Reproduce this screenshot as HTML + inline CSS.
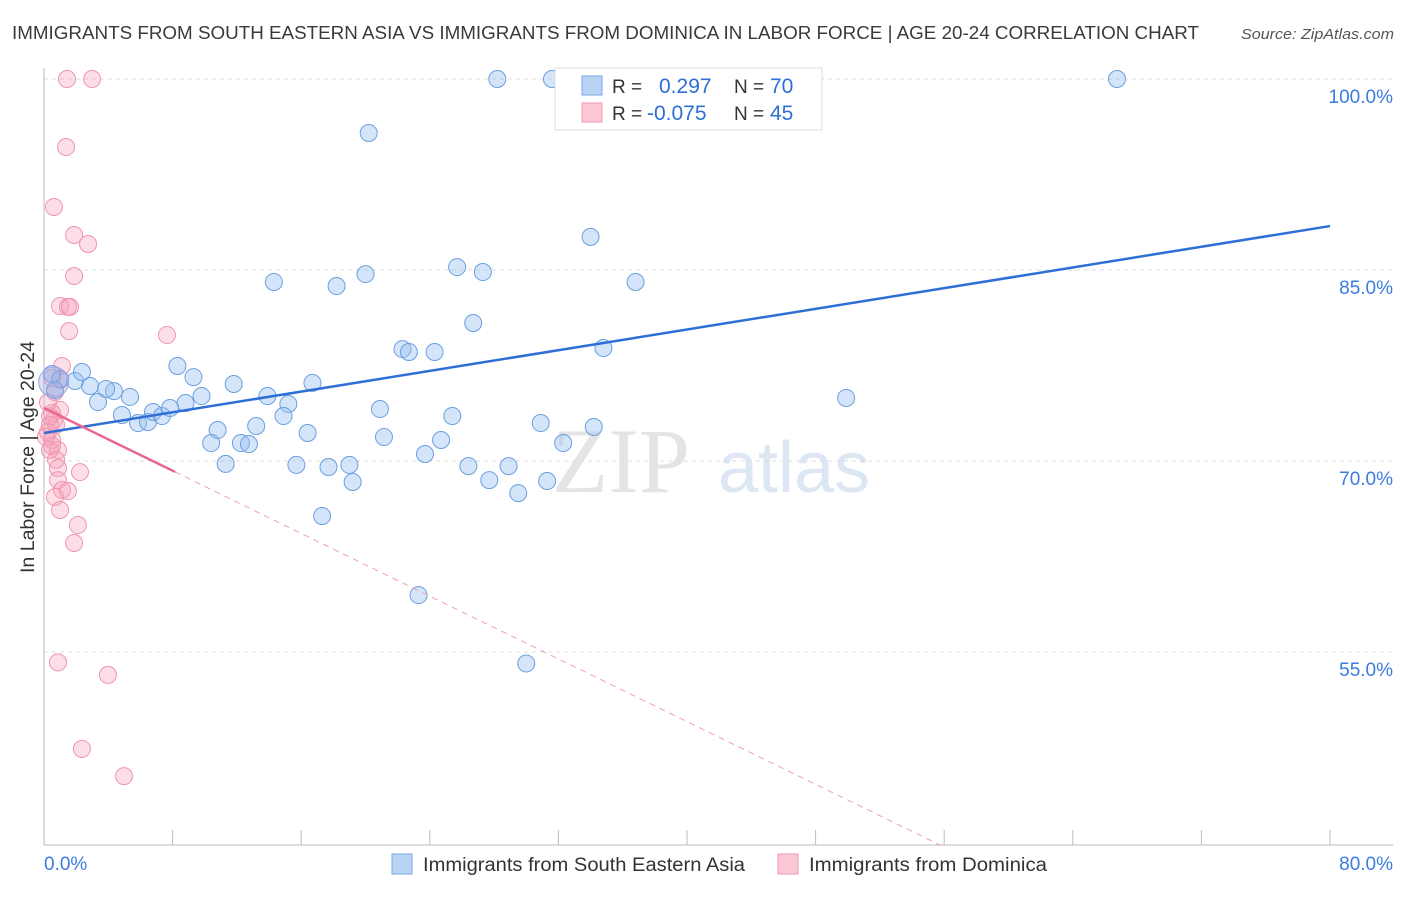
<!DOCTYPE html>
<html><head><meta charset="utf-8"><style>
body{margin:0;background:#fff;font-family:"Liberation Sans",sans-serif;}
</style></head><body>
<svg id="chart" width="1406" height="892" xmlns="http://www.w3.org/2000/svg" style="font-family:'Liberation Sans',sans-serif">
<text x="12" y="39" font-size="18" fill="#3a3a3a" textLength="1187" lengthAdjust="spacingAndGlyphs">IMMIGRANTS FROM SOUTH EASTERN ASIA VS IMMIGRANTS FROM DOMINICA IN LABOR FORCE | AGE 20-24 CORRELATION CHART</text>
<text x="1394" y="39" font-size="15" fill="#555" text-anchor="end" font-style="italic" textLength="153" lengthAdjust="spacingAndGlyphs">Source: ZipAtlas.com</text>
<g><text x="552" y="492" font-size="92" fill="#e4e4e4" font-family="Liberation Serif,serif">ZIP</text><text x="718" y="492" font-size="72" fill="#dde6f3">atlas</text></g>
<g id="grid"></g><g id="axes"></g><g id="marks"></g>
<text transform="translate(34,457) rotate(-90)" font-size="19" fill="#333" text-anchor="middle" textLength="232" lengthAdjust="spacingAndGlyphs">In Labor Force | Age 20-24</text>
<g>
<rect x="555" y="68" width="267" height="62" fill="#fff" stroke="#ddd"/>
<rect x="582" y="76" width="20" height="19" fill="#b9d3f5" stroke="#7aa8e6"/>
<text x="612" y="93" font-size="19" fill="#333">R = </text><text x="659" y="93" font-size="21" fill="#2d6fd6">0.297</text>
<text x="734" y="93" font-size="19" fill="#333">N = </text><text x="770" y="93" font-size="21" fill="#2d6fd6">70</text>
<rect x="582" y="103" width="20" height="19" fill="#fbc9d6" stroke="#f096b0"/>
<text x="612" y="120" font-size="19" fill="#333">R = </text><text x="647" y="120" font-size="21" fill="#2d6fd6">-0.075</text>
<text x="734" y="120" font-size="19" fill="#333">N = </text><text x="770" y="120" font-size="21" fill="#2d6fd6">45</text>
</g>
<g>
<rect x="392" y="854" width="20" height="20" fill="#b9d3f5" stroke="#7aa8e6"/>
<text x="423" y="871" font-size="19" fill="#333" textLength="322" lengthAdjust="spacingAndGlyphs">Immigrants from South Eastern Asia</text>
<rect x="778" y="854" width="20" height="20" fill="#fbc9d6" stroke="#f096b0"/>
<text x="809" y="871" font-size="19" fill="#333" textLength="238" lengthAdjust="spacingAndGlyphs">Immigrants from Dominica</text>
</g>
</svg>
<script>
const blueX=[28.2,31.6,32.9,66.75,20.2,34.0,14.3,18.2,20.0,25.7,27.3,36.8,26.7,22.3,22.7,24.3,34.8,8.3,9.3,11.8,16.7,9.8,8.8,13.9,15.2,20.9,25.4,30.9,32.3,34.2,49.9,4.85,5.85,6.47,6.78,7.34,7.84,3.36,5.35,4.35,3.86,2.86,1.93,2.36,1.0,0.5,0.68,10.8,13.2,14.9,16.4,10.4,12.25,12.75,11.3,15.7,17.7,19.0,19.2,21.15,23.7,24.7,26.4,27.7,28.9,29.5,31.3,17.3,23.3,30.0];
const blueY=[100,100,100,100,95.76,87.6,84.06,83.74,84.68,85.23,84.84,84.06,80.84,78.79,78.56,78.56,78.87,77.46,76.59,76.05,76.13,75.1,74.55,75.1,74.48,74.08,73.53,72.98,71.41,72.67,74.95,73.61,72.98,73.06,73.85,73.53,74.16,74.63,75.03,75.49,75.65,75.89,76.28,76.99,76.44,76.83,75.57,72.43,72.75,73.53,72.2,71.41,71.41,71.33,69.77,69.69,69.53,69.69,68.35,71.88,70.55,71.65,69.6,68.5,69.6,67.48,68.43,65.68,59.47,54.1];
const pinkX=[1.43,2.99,1.37,0.62,1.87,2.74,1.87,1.0,1.49,1.62,1.56,7.65,1.12,1.0,0.5,0.68,1.0,0.5,0.62,0.75,0.37,0.25,0.5,0.87,0.37,0.87,2.24,0.87,1.12,1.49,0.68,1.0,2.11,1.87,0.87,3.98,2.36,4.98,0.25,0.37,0.12,0.5,0.75];
const pinkY=[100,100,94.66,89.95,87.75,87.04,84.53,82.17,82.1,82.1,80.2,79.89,77.46,76.36,76.52,75.42,74.0,73.77,73.22,72.83,72.83,72.28,71.65,70.86,70.86,69.45,69.13,68.5,67.72,67.64,67.17,66.15,64.97,63.56,54.18,53.2,47.39,45.25,74.6,73.5,71.9,71.2,70.1];
const blueTrend=[72.2,88.45]; // y at x=0 and x=80
const pinkTrend=[74.16,-0.6157]; // intercept, slope
const yTicks=[100,85,70,55];
const yTickLabels=["100.0%","85.0%","70.0%","55.0%"];
const xTickLabels=["0.0%","80.0%"];
const NS="http://www.w3.org/2000/svg";
const sx=v=>44+v*16.075, sy=v=>79+(100-v)*12.733;
function mk(p,t,a){const e=document.createElementNS(NS,t);for(const k in a)e.setAttribute(k,a[k]);p.appendChild(e);return e;}
const grid=document.getElementById('grid'),axes=document.getElementById('axes'),marks=document.getElementById('marks');
yTicks.forEach((v,i)=>{
 const l=mk(grid,'line',{x1:44,x2:1393,y1:sy(v),y2:sy(v),stroke:'#dcdcdc','stroke-dasharray':'4,4'});
 
 
 const t=mk(axes,'text',{x:1393,y:sy(v)+24,'font-size':19,fill:'#3b7be0','text-anchor':'end'});t.textContent=yTickLabels[i];
 
 
});
mk(axes,'line',{x1:44,x2:44,y1:68,y2:845,stroke:'#bbb'});
mk(axes,'line',{x1:44,x2:1393,y1:845,y2:845,stroke:'#bbb'});
for(let i=0;i<=10;i++){const x=sx(i*8);const tk=mk(axes,'line',{x1:x,x2:x,y1:830,y2:845,stroke:'#bbb'});
 
 }
[[0,'start',44],[80,'end',1393]].forEach((d,i)=>{const t=mk(axes,'text',{x:d[2],y:870,'font-size':19,fill:'#3b7be0','text-anchor':d[1]});t.textContent=xTickLabels[i];
 
 });
pinkX.forEach((x,i)=>{const c=mk(marks,'circle',{cx:sx(x),cy:sy(pinkY[i]),r:8.5,fill:'rgba(245,160,185,0.35)',stroke:'#f095b0','stroke-width':1});
 
 });
blueX.forEach((x,i)=>{const c=mk(marks,'circle',{cx:sx(x),cy:sy(blueY[i]),r:8.5,fill:'rgba(150,190,240,0.4)',stroke:'#6a9fe0','stroke-width':1});
 
 });
const big=mk(marks,'circle',{cx:sx(0.6),cy:sy(76.2),r:15,fill:'rgba(150,170,230,0.35)',stroke:'#9aa9e0'});


const bt=mk(marks,'line',{x1:sx(0),y1:sy(blueTrend[0]),x2:sx(80),y2:sy(blueTrend[1]),stroke:'#2d6fd6','stroke-width':2.5});


const pe=8.15, pend=(39.8-pinkTrend[0])/pinkTrend[1];
const pt=mk(marks,'line',{x1:sx(0),y1:sy(pinkTrend[0]),x2:sx(pe),y2:sy(pinkTrend[0]+pinkTrend[1]*pe),stroke:'#e8678f','stroke-width':2.5});


const pd=mk(marks,'line',{x1:sx(pe),y1:sy(pinkTrend[0]+pinkTrend[1]*pe),x2:sx(pend),y2:sy(39.8),stroke:'#eea0b8','stroke-width':1,'stroke-dasharray':'6,5'});


</script>
</body></html>
